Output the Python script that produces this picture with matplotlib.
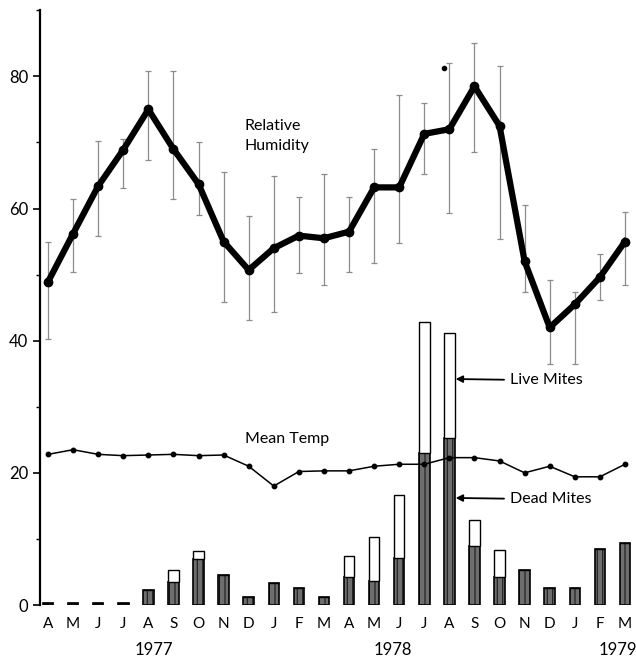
import numpy as np
import matplotlib
matplotlib.use("Agg")
import matplotlib.pyplot as plt
import matplotlib.transforms as mtransforms

plt.rcParams['font.family'] = ['Lato', 'DejaVu Sans']
plt.rcParams['hatch.linewidth'] = 0.6

# April 1977 .. March 1979
months = ['A', 'M', 'J', 'J', 'A', 'S', 'O', 'N', 'D', 'J', 'F', 'M',
          'A', 'M', 'J', 'J', 'A', 'S', 'O', 'N', 'D', 'J', 'F', 'M']
years = ['1977', '1978', '1979']
year_pos = [4.2, 13.75, 22.7]

# relative humidity (%) with range
rh = [48.9, 56.2, 63.4, 68.9, 75.0, 69.0, 63.7, 55.0, 50.7, 54.0, 55.9, 55.5,
      56.5, 63.2, 63.2, 71.3, 72.0, 78.5, 72.5, 52.0, 42.0, 45.5, 49.6, 55.0]
rh_hi = [54.9, 61.5, 70.2, 70.5, 80.8, 80.8, 70.0, 65.6, 58.8, 64.9, 61.7, 65.3,
         61.7, 69.0, 77.2, 76.0, 82.1, 85.0, 81.5, 60.5, 49.2, 47.4, 53.1, 59.5]
rh_lo = [40.2, 50.4, 55.9, 63.1, 67.3, 61.4, 59.0, 45.8, 43.2, 44.3, 50.2, 48.4,
         50.4, 51.8, 54.8, 65.2, 59.4, 68.5, 55.4, 47.4, 36.5, 36.5, 46.2, 48.5]
stray_x = [15.8]
stray_y = [81.2]

# mean temperature (C)
temp = [22.8, 23.5, 22.8, 22.6, 22.7, 22.8, 22.6, 22.7, 21.0, 18.0, 20.2, 20.3,
        20.3, 21.0, 21.3, 21.3, 22.3, 22.3, 21.8, 20.0, 21.0, 19.4, 19.4, 21.3]

# mites
dead = [0.3, 0.3, 0.3, 0.3, 2.2, 3.5, 7.0, 4.5, 1.25, 3.4, 2.6, 1.2,
        4.3, 3.6, 7.1, 23.0, 25.3, 8.9, 4.3, 5.3, 2.5, 2.5, 8.5, 9.4]
live = [0, 0, 0, 0, 0, 1.8, 1.1, 0, 0, 0, 0, 0,
        3.1, 6.7, 9.6, 19.9, 15.8, 4.0, 4.0, 0, 0, 0, 0, 0]

x = np.arange(len(months))
rh = np.array(rh)

fig = plt.figure(figsize=(6.36, 6.60), dpi=100)
ax = fig.add_axes([40/636, 55/660, 596/636, 598/660])

# bars
ax.bar(x, dead, width=0.42, facecolor='#6e6e6e', edgecolor='black',
       linewidth=1.2, hatch='|||', zorder=2)
ax.bar(x, live, width=0.42, bottom=dead, facecolor='white', edgecolor='black',
       linewidth=1.0, zorder=2)

# temperature
ax.plot(x, temp, color='black', lw=1.1, marker='o', ms=3.2, zorder=3)

# humidity
yerr = [rh - np.array(rh_lo), np.array(rh_hi) - rh]
ax.errorbar(x, rh, yerr=yerr, fmt='none', ecolor='#8c8c8c', elinewidth=0.9,
            capsize=2.5, capthick=0.9, zorder=3)
ax.plot(x, rh, color='black', lw=4.5, marker='o', ms=6, zorder=4)
ax.plot(stray_x, stray_y, 'o', color='black', ms=3, zorder=4)

# labels
ax.text(7.85, 71, 'Relative\nHumidity', fontsize=11.5, va='center', ha='left',
        linespacing=1.5)
ax.text(7.85, 25.1, 'Mean Temp', fontsize=11.5, va='center', ha='left')
ax.annotate('Live Mites', xy=(16.25, 34.2), xytext=(18.4, 34.0), fontsize=11.5,
            va='center', ha='left',
            arrowprops=dict(arrowstyle='-|>', color='black', lw=1.3,
                            mutation_scale=10, shrinkA=2, shrinkB=0))
ax.annotate('Dead Mites', xy=(16.25, 16.2), xytext=(18.4, 16.0), fontsize=11.5,
            va='center', ha='left',
            arrowprops=dict(arrowstyle='-|>', color='black', lw=1.3,
                            mutation_scale=10, shrinkA=2, shrinkB=0))

# axes
ax.set_xlim(-0.32, 23.44)
ax.set_ylim(0, 90.5)
ax.set_xticks(x)
ax.set_xticklabels(months, fontsize=11)
ax.tick_params(axis='x', length=0, pad=9)
ax.set_yticks([0, 20, 40, 60, 80])
ax.set_yticks([10, 30, 50, 70, 90], minor=True)
ax.tick_params(axis='y', labelsize=12, length=5, width=1.2, direction='out')
ax.tick_params(axis='y', which='minor', length=3, width=1.0)
for s in ['top', 'right', 'bottom']:
    ax.spines[s].set_visible(False)
ax.spines['left'].set_bounds(0, 90)
ax.spines['left'].set_linewidth(1.6)

trans = mtransforms.blended_transform_factory(ax.transData, ax.transAxes)
for yr, xp in zip(years, year_pos):
    ax.text(xp, -0.075, yr, transform=trans, ha='center', va='center',
            fontsize=12, clip_on=False)

fig.savefig('out.png', dpi=100)
